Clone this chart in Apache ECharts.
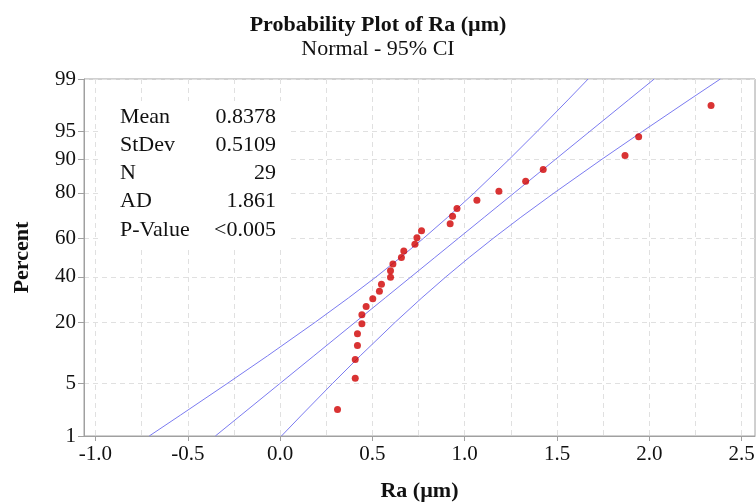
<!DOCTYPE html>
<html>
<head>
<meta charset="utf-8">
<script src="https://cdn.jsdelivr.net/npm/echarts@6/dist/echarts.min.js"></script>
<style>html,body{margin:0;padding:0;background:#fff}#c{width:756px;height:503px}</style>
</head>
<body>
<div id="c"></div>
<script>
// ---- data ----
var raValues = [0.311,0.407,0.407,0.419,0.419,0.443,0.443,0.466,0.502,0.538,0.549,0.598,0.598,0.611,0.657,0.670,0.730,0.741,0.766,0.921,0.934,0.958,1.066,1.185,1.330,1.425,1.868,1.942,2.334];
var raPercents = [2.38,5.78,9.18,12.59,15.99,19.39,22.79,26.19,29.59,32.99,36.39,39.80,43.20,46.60,50.00,53.40,56.80,60.20,63.61,67.01,70.41,73.81,77.21,80.61,84.01,87.41,90.82,94.22,97.62];
var ciPercents = [1,2,5,10,20,30,40,50,60,70,80,90,95,98,99];
var ciLower = [-0.7087,-0.5393,-0.2878,-0.0679,0.1914,0.3716,0.5195,0.6519,0.7783,0.9074,1.0514,1.2417,1.3930,1.5591,1.6683];
var fitLine = [-0.3507,-0.2114,-0.0026,0.1830,0.4078,0.5699,0.7084,0.8378,0.9672,1.1057,1.2678,1.4926,1.6782,1.8870,2.0263];
var ciUpper = [0.0073,0.1165,0.2826,0.4339,0.6242,0.7682,0.8973,1.0238,1.1561,1.3040,1.4842,1.7435,1.9634,2.2149,2.3843];
var yTickPercents = [1,5,20,40,60,80,90,95,99];
var xTickLabels = [-1.0,-0.5,0.0,0.5,1.0,1.5,2.0,2.5];
var xGridValues = [-1.0,-0.75,-0.5,-0.25,0,0.25,0.5,0.75,1.0,1.25,1.5,1.75,2.0,2.25,2.5];
var statLabels = ['Mean','StDev','N','AD','P-Value'];
var statValues = ['0.8378','0.5109','29','1.861','<0.005'];

// inverse standard normal (probability axis transform)
function probit(p){
  var a=[-3.969683028665376e+01,2.209460984245205e+02,-2.759285104469687e+02,1.383577518672690e+02,-3.066479806614716e+01,2.506628277459239e+00];
  var b=[-5.447609879822406e+01,1.615858368580409e+02,-1.556989798598866e+02,6.680131188771972e+01,-1.328068155288572e+01];
  var c=[-7.784894002430293e-03,-3.223964580411365e-01,-2.400758277161838e+00,-2.549732539343734e+00,4.374664141464968e+00,2.938163982698783e+00];
  var d=[7.784695709041462e-03,3.224671290700398e-01,2.445134137142996e+00,3.754408661907416e+00];
  var pl=0.02425,q,r;
  if(p<pl){q=Math.sqrt(-2*Math.log(p));return (((((c[0]*q+c[1])*q+c[2])*q+c[3])*q+c[4])*q+c[5])/((((d[0]*q+d[1])*q+d[2])*q+d[3])*q+1);}
  if(p<=1-pl){q=p-0.5;r=q*q;return (((((a[0]*r+a[1])*r+a[2])*r+a[3])*r+a[4])*r+a[5])*q/(((((b[0]*r+b[1])*r+b[2])*r+b[3])*r+b[4])*r+1);}
  q=Math.sqrt(-2*Math.log(1-p));return -(((((c[0]*q+c[1])*q+c[2])*q+c[3])*q+c[4])*q+c[5])/((((d[0]*q+d[1])*q+d[2])*q+d[3])*q+1);
}
var z = function(pct){ return probit(pct/100); };
var yTickZ = yTickPercents.map(z);
var zMin = z(1), zMax = z(99);

var font = '"Liberation Serif", "Times New Roman", serif';
var points = raValues.map(function(v,i){ return [v, z(raPercents[i])]; });
function curve(xs){ return xs.map(function(v,i){ return [v, z(ciPercents[i])]; }); }

var lineStyle = {color:'#7b7bf0', width:1};
var gridDash = {color:'#e0e0e0', type:[5,4], width:1};

var chart = echarts.init(document.getElementById('c'), null, {renderer:'canvas'});
var xMin = -1.062, xMax = 2.572;
var statGraphics = [{type:'rect', z:10, shape:{x:102, y:101, width:188, height:146}, style:{fill:'#fff'}}];
statLabels.forEach(function(s,i){
  var y = 117 + i*28.2;
  statGraphics.push({type:'text', z:11, x:120, y:y, style:{text:s, font:'22px '+font, fill:'#111', align:'left', verticalAlign:'middle'}});
  statGraphics.push({type:'text', z:11, x:276, y:y, style:{text:statValues[i], font:'22px '+font, fill:'#111', align:'right', verticalAlign:'middle'}});
});

chart.setOption({
  animation:false,
  backgroundColor:'#fff',
  title:[
    {text:'Probability Plot of Ra (µm)', left:'center', top:9, textStyle:{fontFamily:font, fontSize:22, fontWeight:'bold', color:'#111'}},
    {text:'Normal - 95% CI', left:'center', top:33, textStyle:{fontFamily:font, fontSize:22, fontWeight:'normal', color:'#111'}}
  ],
  grid:{left:84, right:1, top:79, bottom:67, outerBoundsMode:'none', containLabel:false, show:true, borderColor:'#a0a0a0', borderWidth:1, backgroundColor:'transparent'},
  xAxis:[
    {type:'value', min:xMin, max:xMax, position:'bottom',
     name:'Ra (µm)', nameLocation:'middle', nameGap:44,
     nameTextStyle:{fontFamily:font, fontSize:22, fontWeight:'bold', color:'#111'},
     axisLine:{show:true, onZero:false, lineStyle:{color:'#a0a0a0'}},
     axisTick:{show:true, length:5, customValues:xTickLabels, lineStyle:{color:'#a0a0a0'}},
     axisLabel:{customValues:xTickLabels, fontFamily:font, fontSize:21, color:'#111', margin:8,
       formatter:function(v){return v.toFixed(1);}},
     splitLine:{show:false}},
    {type:'value', min:xMin, max:xMax, position:'bottom', show:true,
     axisLine:{show:false, onZero:false}, axisLabel:{show:false},
     axisTick:{show:false, customValues:xGridValues},
     splitLine:{show:true, lineStyle:gridDash}}
  ],
  yAxis:{type:'value', min:zMin, max:zMax,
     name:'Percent', nameLocation:'middle', nameGap:51, nameRotate:90,
     nameTextStyle:{fontFamily:font, fontSize:22, fontWeight:'bold', color:'#111'},
     axisLine:{show:true, onZero:false, lineStyle:{color:'#a0a0a0'}},
     axisTick:{show:true, length:6, customValues:yTickZ, lineStyle:{color:'#a0a0a0'}},
     axisLabel:{customValues:yTickZ, fontFamily:font, fontSize:21, color:'#111', margin:8,
       formatter:function(v){
         var best=0; for(var i=1;i<yTickZ.length;i++){ if(Math.abs(yTickZ[i]-v)<Math.abs(yTickZ[best]-v)) best=i; }
         return String(yTickPercents[best]);
       }},
     splitLine:{show:true, lineStyle:gridDash}},
  series:[
    {type:'line', xAxisIndex:0, data:curve(ciLower), showSymbol:false, symbol:'none', lineStyle:lineStyle, clip:true, silent:true},
    {type:'line', xAxisIndex:0, data:curve(fitLine), showSymbol:false, symbol:'none', lineStyle:lineStyle, clip:true, silent:true},
    {type:'line', xAxisIndex:0, data:curve(ciUpper), showSymbol:false, symbol:'none', lineStyle:lineStyle, clip:true, silent:true},
    {type:'scatter', xAxisIndex:0, data:points, symbol:'circle', symbolSize:7, itemStyle:{color:'#d00000'}, z:5}
  ],
  graphic:statGraphics
});
</script>
</body>
</html>
